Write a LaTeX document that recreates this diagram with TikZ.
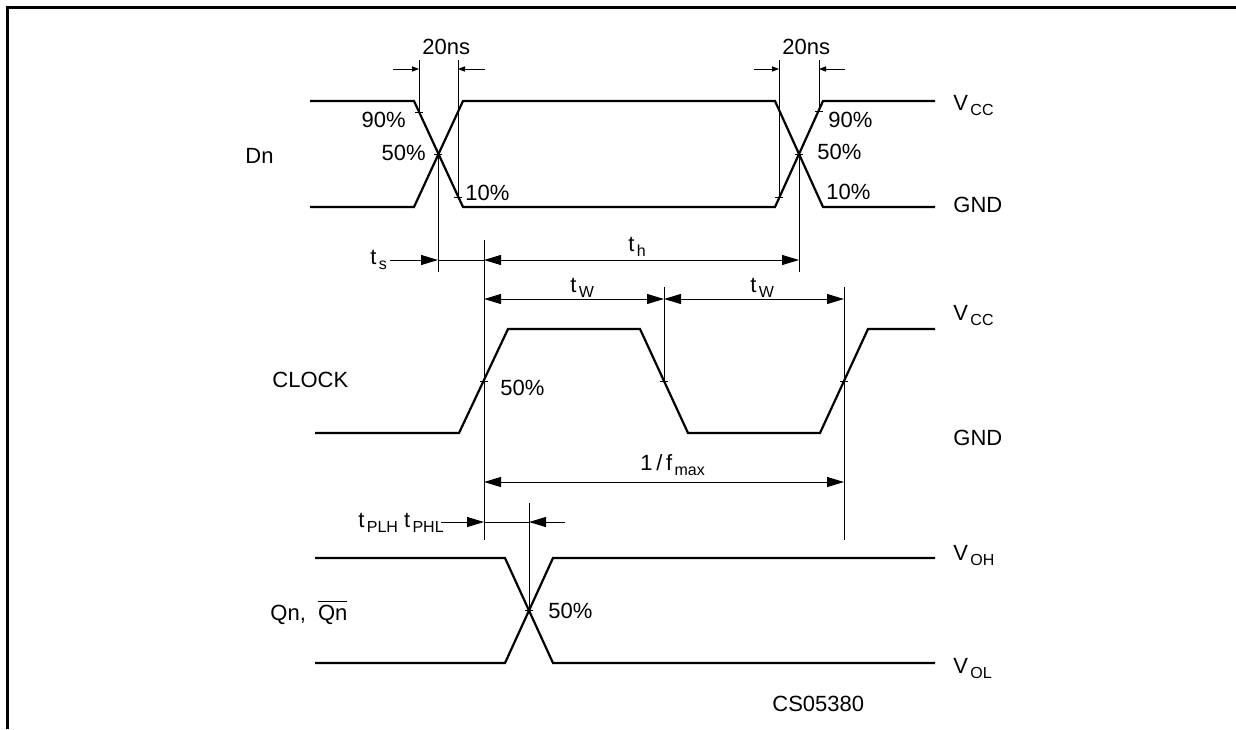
\documentclass[tikz,border=0pt]{standalone}
\usepackage{fontspec}
\setmainfont{Liberation Sans}
\usepackage{tikz}
\usetikzlibrary{arrows.meta,calc}
\tikzset{
    %Define standard arrow tip
    >={Triangle[length=8.5pt,width=5pt]},
    % Define dimension arrow style
    dimline/.style={
           <->,
           color=black,
           line width=0.5pt,},
    oneway/.style={
           ->,
           color=black,
           line width=0.5pt,}
}
\newcommand{\lowsub}[1]{\kern1.2pt\raisebox{-0.5ex}{\fontsize{8}{10}\selectfont #1}}

\begin{document}
\begin{tikzpicture}[x=0.5pt, y=-0.5pt, font=\fontsize{11}{13}\selectfont]
\tikzstyle{wave}=[line width=1.1pt, line join=miter]
%
\tikzstyle{extline}=[line width=0.45pt]
%
\tikzstyle{smallarr}=[-{Triangle[length=3.5pt,width=2.6pt]}, line width=0.45pt]
%
\tikzstyle{lbl}=[inner sep=0pt, anchor=base west]
%
\tikzstyle{lble}=[inner sep=0pt, anchor=base east]

\useasboundingbox (0,0) rectangle (1236,729);
\draw[line width=1.5pt] (7,729) -- (7,7) -- (1236,7);

% key points
\coordinate (dn90) at (419,112);
\coordinate (dnX) at (438,154);
\coordinate (dn10) at (458,197);
\coordinate (dn10b) at (779,197);
\coordinate (dnY) at (799,154);
\coordinate (dn90b) at (819,111);
\coordinate (ck1) at (484,381);
\coordinate (ck2) at (664,381);
\coordinate (ck3) at (844,381);
\coordinate (qx) at (529,610);

% Dn
\draw[wave] (310,101) -- (414,101) -- (463,207) -- (775,207) -- (823,101) -- (935,101);
\draw[wave] (310,207) -- (414,207) -- (463,101) -- (775,101) -- (823,207) -- (935,207);

% CLOCK
\draw[wave] (315,433) -- (459,433) -- (508,329) -- (640,329) -- (688,433) -- (820,433) -- (868,329) -- (935,329);

% Qn
\draw[wave] (315,558) -- (505,558) -- (553,663) -- (935,663);
\draw[wave] (315,663) -- (505,663) -- (553,558) -- (935,558);

% ticks
\foreach \p in {dn90,dnX,dn10,dn10b,dnY,dn90b,ck1,ck2,ck3,qx}
    \draw[extline] ($(\p)+(-4,0)$) -- ($(\p)+(4,0)$);

% 20ns
\coordinate (nsA) at (393,69);
\coordinate (nsB) at (485,69);
\coordinate (nsC) at (754,69);
\coordinate (nsD) at (845,69);
\draw[extline] (dn90) -- (dn90 |- 0,60);
\draw[extline] (dn10) -- (dn10 |- 0,60);
\draw[extline] (dn10b) -- (dn10b |- 0,60);
\draw[extline] (dn90b) -- (dn90b |- 0,60);
\draw[smallarr] (nsA) -- (dn90 |- nsA);
\draw[smallarr] (nsB) -- (dn10 |- nsB);
\draw[smallarr] (nsC) -- (dn10b |- nsC);
\draw[smallarr] (nsD) -- (dn90b |- nsD);

% extension lines
\draw[extline] (dnX) -- (dnX |- 0,272);
\draw[extline] (dnY) -- (dnY |- 0,272);
\draw[extline] (ck1 |- 0,240) -- (ck1 |- 0,540);
\draw[extline] (ck2 |- 0,287) -- (ck2);
\draw[extline] (ck3 |- 0,287) -- (ck3 |- 0,540);
\draw[extline] (qx |- 0,503) -- (qx);

% ts, th
\coordinate (tsA) at (390,260);
\draw[oneway] (tsA) -- (dnX |- tsA);
\draw[extline] (dnX |- tsA) -- (ck1 |- tsA);
\draw[dimline] (ck1 |- tsA) -- (dnY |- tsA);

% tw
\coordinate (twA) at (0,299);
\draw[dimline] (ck1 |- twA) -- (ck2 |- twA);
\draw[dimline] (ck2 |- twA) -- (ck3 |- twA);

% 1/fmax
\coordinate (fmA) at (0,482);
\draw[dimline] (ck1 |- fmA) -- (ck3 |- fmA);

% tPLH tPHL
\coordinate (tpA) at (441,522);
\coordinate (tpB) at (565,522);
\draw[oneway] (tpA) -- (ck1 |- tpA);
\draw[extline] (ck1 |- tpA) -- (qx |- tpA);
\draw[oneway] (tpB) -- (qx |- tpB);

% labels
\node[lbl] (ns1) at (422,54) {20ns};
\node[lbl] (ns2) at (782,54) {20ns};
\node[lble] (p90a) at (406,127) {90\%};
\node[lble] (p50a) at (426,160) {50\%};
\node[lbl] (p10a) at (465,200) {10\%};
\node[lbl] (p90b) at (828,127) {90\%};
\node[lbl] (p50b) at (817,159) {50\%};
\node[lbl] (p10b) at (826,199) {10\%};
\node[lbl] (dn) at (245,163) {Dn};
\node[lbl] (vcc1) at (953,110) {V\lowsub{CC}};
\node[lbl] (gnd1) at (953,212) {GND};

\node[lbl] (ts) at (370,264) {t\lowsub{s}};
\node[lbl] (th) at (628,251) {t\lowsub{h}};
\node[lbl] (tw1) at (570,292) {t\lowsub{W}};
\node[lbl] (tw2) at (750,292) {t\lowsub{W}};

\node[lbl] (clk) at (272,387) {CLOCK};
\node[lbl] (p50c) at (500,395) {50\%};
\node[lbl] (vcc2) at (953,320) {V\lowsub{CC}};
\node[lbl] (gnd2) at (953,445) {GND};

\node[lbl] (fmax) at (640,470) {1\,/\,f\lowsub{max}};
\node[lbl] (tp) at (358,527) {t\lowsub{PLH}\kern3pt t\lowsub{PHL}};

\node[lbl] (qn) at (270,620) {Qn,\ \ $\overline{\mbox{Qn}}$};
\node[lbl] (p50q) at (548,618) {50\%};
\node[lbl] (voh) at (953,560) {V\lowsub{OH}};
\node[lbl] (vol) at (953,673) {V\lowsub{OL}};
\node[lbl] (cs) at (772,711) {CS05380};

\end{tikzpicture}
\end{document}
